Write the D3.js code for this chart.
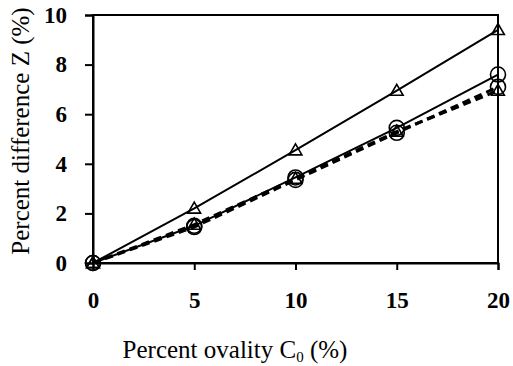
<!DOCTYPE html>
<html>
<head>
<meta charset="utf-8">
<script src="https://cdn.jsdelivr.net/npm/d3@7"></script>
<style>
  body { margin: 0; background: #fff; }
  svg { display: block; }
  svg text { font-family: "Liberation Serif", "Times New Roman", Tinos, "DejaVu Serif", serif; }
  .tick text { font-weight: bold; font-size: 23px; }
  .title { font-size: 25px; }
</style>
</head>
<body>
<div id="Chart"></div>
<script>
const ovality = [0, 5, 10, 15, 20];
const triSolid = [0, 2.2, 4.55, 6.95, 9.4];
const circSolid = [0, 1.5, 3.45, 5.45, 7.6];
const circDashed = [0, 1.45, 3.35, 5.25, 7.1];
const triDashed = [0, 1.55, 3.4, 5.3, 6.95];
const xTicks = [0, 5, 10, 15, 20];
const yTicks = [0, 2, 4, 6, 8, 10];

const W = 513, H = 366;
const m = {left: 93, right: 15, top: 15, bottom: 103};

const series = [
  {values: circDashed, marker: "circle", dash: "8 5", width: 3},
  {values: triDashed,  marker: "triangle", dash: "8 5", width: 3},
  {values: circSolid,  marker: "circle", dash: null, width: 2},
  {values: triSolid,   marker: "triangle", dash: null, width: 2}
];

const svg = d3.select("#Chart").append("svg")
  .attr("width", W).attr("height", H);

const x = d3.scaleLinear().domain([0, 20]).range([m.left, W - m.right]);
const y = d3.scaleLinear().domain([0, 10]).range([H - m.bottom, m.top]);

// frame
svg.append("rect")
  .attr("x", x(0)).attr("y", y(10))
  .attr("width", x(20) - x(0)).attr("height", y(0) - y(10))
  .attr("fill", "none").attr("stroke", "#000").attr("stroke-width", 2);

const xAxis = svg.append("g")
  .attr("transform", `translate(0 ${y(0)})`)
  .call(d3.axisBottom(x).tickValues(xTicks).tickSize(7).tickPadding(22).tickFormat(d3.format("d")));
const yAxis = svg.append("g")
  .attr("transform", `translate(${x(0)} 0)`)
  .call(d3.axisLeft(y).tickValues(yTicks).tickSize(8).tickPadding(18).tickFormat(d3.format("d")));
for (const a of [xAxis, yAxis]) {
  a.attr("font-family", null).attr("font-size", null);
  a.select(".domain").attr("stroke-width", 2);
  a.selectAll(".tick line").attr("stroke-width", 2);
  a.selectAll(".tick text").attr("fill", "#000");
}

const line = d3.line().x((d, i) => x(ovality[i])).y(d => y(d));

for (const s of series) {
  svg.append("path")
    .attr("d", line(s.values))
    .attr("fill", "none")
    .attr("stroke", "#000")
    .attr("stroke-width", s.width)
    .attr("stroke-dasharray", s.dash);
}

const tri = d3.symbol().type(d3.symbolTriangle).size(70);
for (const s of series) {
  const g = svg.append("g");
  if (s.marker === "circle") {
    g.selectAll("circle").data(s.values).join("circle")
      .attr("cx", (d, i) => x(ovality[i]))
      .attr("cy", d => y(d))
      .attr("r", 7.5)
      .attr("fill", "none")
      .attr("stroke", "#000")
      .attr("stroke-width", 1.6);
  } else {
    g.selectAll("path").data(s.values).join("path")
      .attr("transform", (d, i) => `translate(${x(ovality[i])} ${y(d) + 1})`)
      .attr("d", tri)
      .attr("fill", "none")
      .attr("stroke", "#000")
      .attr("stroke-width", 1.6);
  }
}

// titles
const xt = svg.append("text").attr("class", "title")
  .attr("x", 235).attr("y", 358)
  .attr("text-anchor", "middle");
xt.append("tspan").text("Percent ovality C");
xt.append("tspan").attr("font-size", 15).attr("dy", 4).text("0");
xt.append("tspan").attr("dy", -4).text(" (%)");

svg.append("text").attr("class", "title")
  .attr("transform", `translate(29 131) rotate(-90)`)
  .attr("text-anchor", "middle")
  .text("Percent difference Z (%)");
</script>
</body>
</html>
